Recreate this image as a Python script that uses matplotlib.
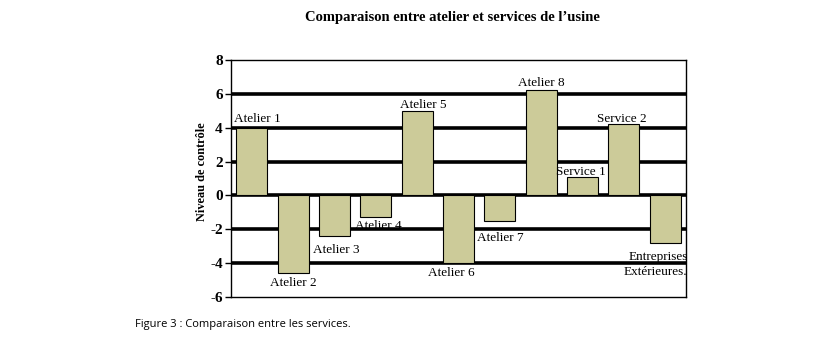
import matplotlib
matplotlib.use("Agg")
import matplotlib.pyplot as plt

categories = ["Atelier 1", "Atelier 2", "Atelier 3", "Atelier 4", "Atelier 5",
              "Atelier 6", "Atelier 7", "Atelier 8", "Service 1", "Service 2",
              "Entreprises\nExtérieures."]
values = [4.0, -4.6, -2.4, -1.3, 5.0, -4.0, -1.5, 6.2, 1.1, 4.2, -2.8]
yticks = [-6, -4, -2, 0, 2, 4, 6, 8]

# label offsets (points) relative to the end of each bar, with alignment
label_pos = [
    ((-13, 2), "left", "bottom"),
    ((0, -3), "center", "top"),
    ((1.5, -6), "center", "top"),
    ((2, -2), "center", "top"),
    ((-12, 0), "left", "bottom"),
    ((-5, -3), "center", "top"),
    ((0, -8), "center", "top"),
    ((0, 1), "center", "bottom"),
    ((-1.5, -1), "center", "bottom"),
    ((-1.5, -0.5), "center", "bottom"),
    ((16, -6), "right", "top"),
]

serif = "Liberation Serif"

fig = plt.figure(figsize=(8.32, 3.5), dpi=100)
ax = fig.add_axes([231 / 832, 1 - 297 / 350, (686 - 231) / 832, (297 - 60) / 350])

x = list(range(len(categories)))
ax.bar(x, values, width=0.75, color="#CCCB99", edgecolor="black",
       linewidth=0.8, zorder=3)

for yv in yticks[1:-1]:
    ax.axhline(yv, color="black", linewidth=2.6, zorder=2)

ax.set_xlim(-0.5, len(categories) - 0.5)
ax.set_ylim(-6, 8)
ax.set_yticks(yticks)
ax.set_yticklabels([str(t) for t in yticks], fontfamily=serif,
                   fontsize=11, fontweight="bold")
ax.tick_params(axis="y", direction="out", length=4, width=1, pad=2)
ax.set_xticks([])
for s in ax.spines.values():
    s.set_linewidth(1.0)

for xi, v, name, (off, ha, va) in zip(x, values, categories, label_pos):
    ax.annotate(name, xy=(xi, v), xytext=off, textcoords="offset points",
                ha=ha, va=va, fontfamily=serif, fontsize=9.5,
                linespacing=1.3, zorder=4)

ax.set_ylabel("Niveau de contrôle", fontfamily=serif, fontsize=8.8,
              fontweight="bold")
ax.yaxis.set_label_coords(-0.05, 0.53)

fig.text(452 / 832, 1 - 18 / 350, "Comparaison entre atelier et services de l\u2019usine",
         ha="center", va="center", fontfamily=serif, fontsize=10.5,
         fontweight="bold")

fig.text(135 / 832, 1 - 325 / 350, "Figure 3 : Comparaison entre les services.",
         ha="left", va="center", fontfamily="Open Sans", fontsize=8)

fig.savefig("out.png", dpi=100)
